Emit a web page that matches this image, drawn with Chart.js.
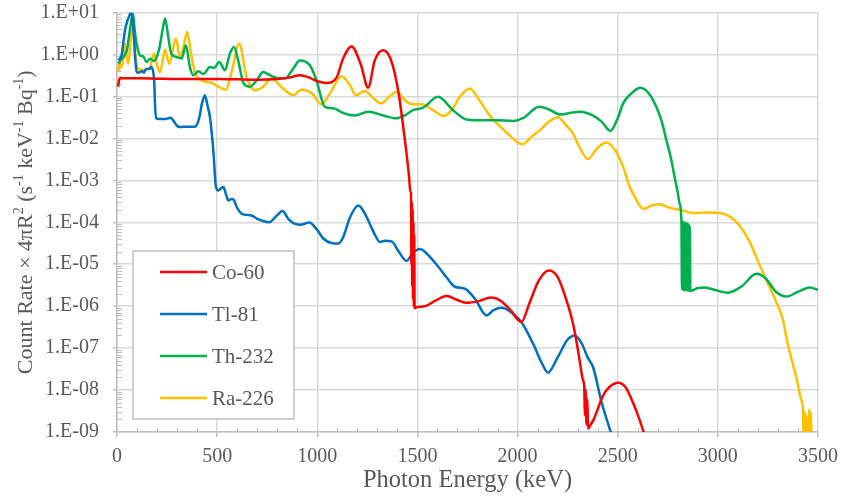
<!DOCTYPE html>
<html>
<head>
<meta charset="utf-8">
<script src="https://cdn.jsdelivr.net/npm/chart.js@4.4.0/dist/chart.umd.min.js"></script>
<style>
  html, body { margin: 0; padding: 0; background: #fff; }
  canvas { display: block; }
</style>
</head>
<body>
<canvas id="chart" width="844" height="500"></canvas>
<script>
const seriesNames = ["Co-60", "Tl-81", "Th-232", "Ra-226"];
const seriesColors = ["#FF0000", "#0070C0", "#00B050", "#FFC000"];

// [photon energy keV, count rate x 4piR^2]
const co60Points = [
  [5,0.17],[12,0.26],[20,0.27],[100,0.27],[200,0.265],[300,0.26],[400,0.26],[500,0.26],[600,0.255],[700,0.25],
  [800,0.26],[860,0.28],[913,0.32],[960,0.28],[1000,0.23],[1046,0.21],[1096,0.28],[1129,0.8],[1171,1.55],[1216,0.6],
  [1254,0.162],[1287,0.72],[1329,1.26],[1362,0.87],[1387,0.35],[1409,0.098],[1429,0.019],[1444,0.0051],[1457,0.0014],[1465,5.2e-4],
  [1468,5e-4],[1470,1e-5],[1472,3e-4],[1474,3e-6],[1476,2e-4],[1478,1.5e-6],[1480,1e-4],[1482,1e-6],[1484,5e-5],[1486,9e-7],
  [1490,9.2e-7],[1500,9.5e-7],[1540,1.0e-6],[1590,1.35e-6],[1645,1.75e-6],[1700,1.4e-6],[1745,1.2e-6],[1800,1.3e-6],[1870,1.6e-6],[1915,1.35e-6],
  [1965,8e-7],[2019,4.2e-7],[2060,1.2e-6],[2105,4e-6],[2156,7.1e-6],[2200,5e-6],[2240,1.6e-6],[2277,3.8e-7],[2302,8.7e-8],[2327,1.7e-8],
  [2333,1.2e-8],[2336,2.5e-9],[2340,1.0e-8],[2344,1.5e-9],[2348,6e-9],[2352,1.2e-9],[2365,1.5e-9],[2380,2e-9],[2427,7.4e-9],[2460,1.2e-8],
  [2502,1.5e-8],[2540,1.15e-8],[2580,4.5e-9],[2610,1.9e-9],[2640,7e-10]
];

const tl81Points = [
  [8,0.73],[15,0.8],[23,0.95],[32,2.0],[40,3.8],[50,6],[58,7.5],[70,10],[81,5],[90,0.95],
  [98,0.38],[110,0.37],[125,0.4],[135,0.37],[145,0.45],[160,0.45],[173,0.5],[182,0.35],[186,0.22],[190,0.062],
  [196,0.03],[210,0.029],[240,0.029],[268,0.031],[285,0.025],[300,0.02],[314,0.0186],[350,0.019],[389,0.019],[410,0.03],
  [425,0.07],[439,0.106],[452,0.06],[464,0.032],[481,0.0051],[494,7e-4],[506,5.7e-4],[520,6.5e-4],[531,6.9e-4],[545,4.5e-4],
  [556,3.3e-4],[570,3.6e-4],[581,3.5e-4],[600,2.2e-4],[622,1.6e-4],[645,1.5e-4],[672,1.45e-4],[700,1.2e-4],[722,1.1e-4],[760,1.0e-4],
  [795,1.4e-4],[827,1.85e-4],[855,1.2e-4],[880,9.5e-5],[913,8.7e-5],[960,9.8e-5],[1000,6.5e-5],[1030,4.1e-5],[1070,3.2e-5],[1105,3.1e-5],
  [1129,4.4e-5],[1163,1.3e-4],[1205,2.5e-4],[1235,1.7e-4],[1263,9e-5],[1290,4.8e-5],[1312,3.4e-5],[1340,3.6e-5],[1371,3.5e-5],[1404,2.1e-5],
  [1446,1.2e-5],[1475,1.8e-5],[1512,2.3e-5],[1562,1.5e-5],[1612,7.8e-6],[1645,4.9e-6],[1687,2.9e-6],[1737,2.6e-6],[1787,1.5e-6],[1845,6e-7],
  [1880,8e-7],[1920,9.1e-7],[1970,7e-7],[2019,4.2e-7],[2080,1.2e-7],[2120,4.5e-8],[2152,2.6e-8],[2200,6e-8],[2250,1.6e-7],[2285,2e-7],
  [2320,1.3e-7],[2350,6e-8],[2377,3.5e-8],[2420,5e-9],[2468,9e-10]
];

const th232Points = [
  [8,0.6],[20,0.75],[35,0.9],[50,1.3],[65,4],[80,9.5],[88,4],[98,1.8],[115,0.95],[130,0.9],
  [148,0.66],[165,0.79],[185,0.7],[211,1.38],[228,4],[240,7.2],[256,2.6],[271,1.05],[298,0.87],[323,0.8],
  [344,1.66],[364,0.5],[381,0.32],[406,0.4],[431,0.34],[464,0.5],[485,0.48],[511,0.66],[539,0.42],[564,1.05],
  [584,1.5],[605,0.72],[633,0.2],[664,0.17],[697,0.24],[730,0.38],[764,0.32],[805,0.27],[840,0.27],[880,0.46],
  [913,0.72],[963,0.55],[996,0.24],[1038,0.056],[1080,0.052],[1130,0.04],[1188,0.035],[1254,0.043],[1330,0.035],[1395,0.03],
  [1440,0.036],[1478,0.047],[1528,0.054],[1603,0.098],[1678,0.047],[1745,0.028],[1800,0.027],[1900,0.027],[1978,0.026],[2030,0.031],
  [2107,0.057],[2160,0.048],[2211,0.037],[2260,0.04],[2310,0.043],[2377,0.035],[2420,0.025],[2463,0.015],[2500,0.03],[2527,0.068],
  [2570,0.12],[2613,0.16],[2660,0.11],[2693,0.056],[2720,0.025],[2743,0.009],[2765,0.0035],[2784,0.0012],[2800,5e-4],[2809,2.8e-4],
  [2818,1.1e-4],[2821,2.5e-6],[2824,1.05e-4],[2827,2.4e-6],[2830,1.0e-4],[2833,2.4e-6],[2836,1.0e-4],[2839,2.4e-6],[2842,9.5e-5],[2845,2.4e-6],
  [2848,9.5e-5],[2851,2.3e-6],[2854,9e-5],[2857,2.3e-6],[2860,8e-5],[2863,2.3e-6],[2900,2.7e-6],[2934,2.8e-6],[2990,2.4e-6],[3050,2.1e-6],
  [3120,3e-6],[3192,5.9e-6],[3240,4.5e-6],[3290,2.2e-6],[3342,1.7e-6],[3400,2.2e-6],[3458,2.8e-6],[3500,2.45e-6]
];

const ra226Points = [
  [7,0.38],[14,0.62],[22,0.5],[30,0.7],[40,1.8],[48,0.9],[56,0.6],[66,1.6],[76,6],[84,2.5],
  [92,1.0],[101,0.5],[115,0.43],[130,0.43],[148,0.45],[165,0.5],[185,1.05],[198,0.6],[215,0.38],[240,1.3],
  [261,0.6],[294,2.4],[314,0.87],[328,1.26],[351,3.5],[368,1.15],[389,0.38],[431,0.23],[473,0.21],[506,0.17],
  [544,0.144],[572,0.38],[610,1.8],[647,0.29],[689,0.14],[730,0.17],[772,0.27],[822,0.165],[880,0.107],[921,0.145],
  [971,0.12],[1021,0.065],[1063,0.117],[1121,0.3],[1160,0.2],[1193,0.107],[1238,0.135],[1280,0.09],[1321,0.068],[1360,0.1],
  [1396,0.127],[1440,0.08],[1471,0.065],[1521,0.065],[1578,0.047],[1632,0.034],[1670,0.047],[1712,0.098],[1761,0.155],[1810,0.08],
  [1861,0.035],[1944,0.014],[2024,0.0072],[2070,0.011],[2111,0.0155],[2160,0.026],[2202,0.032],[2240,0.021],[2277,0.013],[2310,0.006],
  [2352,0.0032],[2400,0.006],[2443,0.008],[2490,0.005],[2527,0.0021],[2560,7e-4],[2585,4e-4],[2627,2.1e-4],[2670,2.5e-4],[2710,2.7e-4],
  [2760,2.2e-4],[2809,2.0e-4],[2876,1.66e-4],[2950,1.7e-4],[3009,1.66e-4],[3076,1.2e-4],[3120,7e-5],[3159,3.4e-5],[3200,1.2e-5],[3243,4.1e-6],
  [3290,1.3e-6],[3326,4.6e-7],[3342,1.8e-7],[3370,5e-8],[3392,2e-8],[3417,5.6e-9],[3425,3.5e-9],[3428,8e-10],[3432,3e-9],[3436,8e-10],
  [3440,2.5e-9],[3444,8e-10],[3448,2e-9],[3452,8e-10],[3456,3.5e-9],[3460,8e-10],[3464,3e-9],[3467,8e-10]
];

const xTickValues = [0, 500, 1000, 1500, 2000, 2500, 3000, 3500];
const xTickLabels = ["0", "500", "1000", "1500", "2000", "2500", "3000", "3500"];
const yTickValues = [1e-9, 1e-8, 1e-7, 1e-6, 1e-5, 1e-4, 1e-3, 1e-2, 1e-1, 1, 10];
const yTickLabels = ["1.E-09", "1.E-08", "1.E-07", "1.E-06", "1.E-05", "1.E-04", "1.E-03", "1.E-02", "1.E-01", "1.E+00", "1.E+01"];

const xTitle = "Photon Energy (keV)";
// [text, superscript?]
const yTitleParts = [
  ["Count Rate \u00d7 4\u03c0R", false], ["2", true], [" (s", false], ["-1", true],
  [" keV", false], ["-1", true], [" Bq", false], ["-1", true], [")", false]
];

const textColor = "#595959";
const gridColor = "#d9d9d9";
const axisColor = "#bfbfbf";
const serif = "'Liberation Serif', 'Times New Roman', serif";

// minor ticks, legend box and the y title with superscripts
const decor = {
  id: "decor",
  beforeDatasetsDraw(chart) {
    const { ctx, chartArea: a, scales: { x, y } } = chart;
    ctx.save();
    ctx.strokeStyle = axisColor;
    ctx.lineWidth = 1;
    ctx.beginPath();
    for (let e = -9; e < 1; e++) {
      for (let k = 2; k < 10; k++) {
        const py = Math.round(y.getPixelForValue(k * Math.pow(10, e))) + 0.5;
        ctx.moveTo(a.left, py);
        ctx.lineTo(a.left + 5, py);
      }
    }
    for (let v = 100; v < 3500; v += 100) {
      if (v % 500 === 0) continue;
      const px = Math.round(x.getPixelForValue(v)) + 0.5;
      ctx.moveTo(px, a.bottom);
      ctx.lineTo(px, a.bottom - 4);
    }
    ctx.stroke();
    ctx.restore();
  },
  afterDraw(chart) {
    const { ctx, chartArea: a } = chart;
    ctx.save();

    // legend
    const bx = a.left + 16, by = a.top + 238.5, bw = 161, bh = 168;
    ctx.fillStyle = "#fff";
    ctx.fillRect(bx, by, bw, bh);
    ctx.strokeStyle = axisColor;
    ctx.lineWidth = 1.5;
    ctx.strokeRect(bx, by, bw, bh);
    ctx.font = "21px " + serif;
    ctx.textBaseline = "middle";
    ctx.textAlign = "left";
    chart.data.datasets.forEach((ds, i) => {
      const ly = by + 21 + i * 42;
      ctx.strokeStyle = ds.borderColor;
      ctx.lineWidth = 2.5;
      ctx.beginPath();
      ctx.moveTo(bx + 27, ly);
      ctx.lineTo(bx + 74, ly);
      ctx.stroke();
      ctx.fillStyle = textColor;
      ctx.fillText(ds.label, bx + 79, ly + 1);
    });

    // y axis title
    const big = 22, small = 14;
    ctx.fillStyle = textColor;
    ctx.textBaseline = "alphabetic";
    let total = 0;
    yTitleParts.forEach(([t, sup]) => {
      ctx.font = (sup ? small : big) + "px " + serif;
      total += ctx.measureText(t).width;
    });
    ctx.translate(31.5, (a.top + a.bottom) / 2);
    ctx.rotate(-Math.PI / 2);
    let cx = -total / 2;
    yTitleParts.forEach(([t, sup]) => {
      ctx.font = (sup ? small : big) + "px " + serif;
      ctx.fillText(t, cx, sup ? -9 : 0);
      cx += ctx.measureText(t).width;
    });
    ctx.restore();
  }
};

const ctx = document.getElementById("chart").getContext("2d");
const allPoints = [co60Points, tl81Points, th232Points, ra226Points];

const chart = new Chart(ctx, {
  type: "line",
  data: {
    datasets: allPoints.map((pts, i) => ({
      label: seriesNames[i],
      data: pts.map(p => ({ x: p[0], y: p[1] })),
      borderColor: seriesColors[i],
      backgroundColor: seriesColors[i],
      borderWidth: 2.5,
      pointRadius: 0,
      cubicInterpolationMode: "monotone",
      fill: false,
    })),
  },
  options: {
    responsive: false,
    animation: false,
    devicePixelRatio: 1,
    layout: { padding: { top: 12.5, right: 26, left: 0, bottom: 0 } },
    plugins: { legend: { display: false }, tooltip: { enabled: false } },
    scales: {
      x: {
        type: "linear",
        min: 0,
        max: 3500,
        afterBuildTicks: s => { s.ticks = xTickValues.map(v => ({ value: v })); },
        afterFit: s => {
          s.height = 68;
          s.paddingLeft = 0;
          s.paddingRight = 0;
        },
        grid: { color: gridColor, lineWidth: 1.5, tickLength: 5, tickColor: axisColor },
        border: { color: axisColor, width: 1.5 },
        ticks: {
          color: textColor,
          font: { family: serif, size: 20, lineHeight: 1 },
          padding: 10,
          maxRotation: 0,
          autoSkip: false,
          callback: (v, i) => xTickLabels[i],
        },
        title: {
          display: true,
          text: xTitle,
          color: textColor,
          font: { family: serif, size: 24.5, lineHeight: 1.2 },
          padding: { top: 0, bottom: 5 },
        },
      },
      y: {
        type: "logarithmic",
        min: 1e-9,
        max: 10,
        afterBuildTicks: s => { s.ticks = yTickValues.map(v => ({ value: v })); },
        afterFit: s => {
          s.width = 117;
          s.paddingTop = 0;
          s.paddingBottom = 0;
        },
        grid: { color: gridColor, lineWidth: 1.5, tickLength: 4, tickColor: axisColor },
        border: { color: axisColor, width: 1.5 },
        ticks: {
          color: textColor,
          font: { family: serif, size: 20, lineHeight: 1 },
          padding: 14,
          autoSkip: false,
          callback: (v, i) => yTickLabels[i],
        },
      },
    },
  },
  plugins: [decor],
});
</script>
</body>
</html>
